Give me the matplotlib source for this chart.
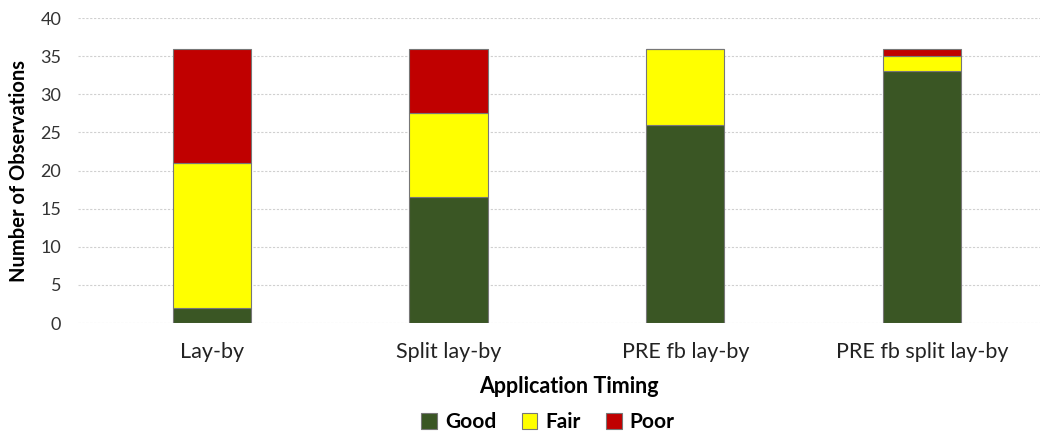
import matplotlib.pyplot as plt
import numpy as np

plt.rcParams['font.family'] = ['Lato', 'DejaVu Sans']

timings = ["Lay-by", "Split lay-by", "PRE fb lay-by", "PRE fb split lay-by"]
good = np.array([2, 16.5, 26, 33])
fair = np.array([19, 11, 10, 2])
poor = np.array([15, 8.5, 0, 1])

x = np.arange(len(timings))
w = 0.33

fig = plt.figure(figsize=(10.5, 4.33), dpi=100)
ax = fig.add_axes([78 / 1050, 1 - 323 / 433, (1040 - 78) / 1050, (323 - 18) / 433])

ax.bar(x, good, w, color="#3a5624", edgecolor="#777777", linewidth=0.8, label="Good", zorder=3)
ax.bar(x, fair, w, bottom=good, color="#ffff00", edgecolor="#777777", linewidth=0.8, label="Fair", zorder=3)
ax.bar(x, poor, w, bottom=good + fair, color="#c00000", edgecolor="#777777", linewidth=0.8, label="Poor", zorder=3)

ax.set_xlim(-0.565, 3.498)
ax.set_ylim(0, 40)
ax.set_yticks(range(0, 41, 5))
ax.set_xticks(x)
ax.set_xticklabels(timings, fontsize=15.5)
ax.tick_params(axis="y", labelsize=13, colors="#333333", length=0, pad=12)
ax.tick_params(axis="x", length=0, pad=14, colors="#222222")
ax.grid(axis="y", color="#d0d0d0", linestyle=(0, (2, 1.5)), linewidth=0.8, zorder=0)
for s in ax.spines.values():
    s.set_visible(False)

ax.set_xlabel("Application Timing", fontsize=15.5, fontweight="bold")
ax.xaxis.set_label_coords(0.51, -0.175)
ax.set_ylabel("Number of Observations", fontsize=14.5, fontweight="bold", labelpad=8)

fig.legend(*ax.get_legend_handles_labels(), loc="center", bbox_to_anchor=(0.522, 0.025),
           ncol=3, frameon=False, prop={"size": 15, "weight": "bold"},
           handlelength=0.75, handleheight=0.75, columnspacing=1.2, handletextpad=0.4)

fig.savefig("out.png", dpi=100)
